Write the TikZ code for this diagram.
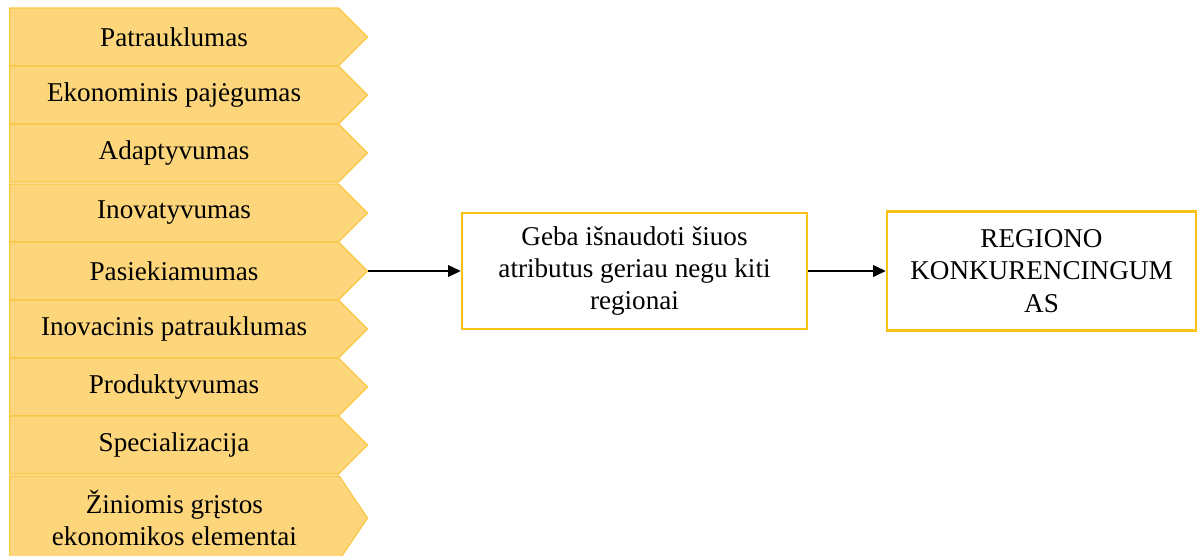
\documentclass[tikz,border=0pt]{standalone}
\usepackage{fontspec}
\setmainfont{Liberation Serif}
\usetikzlibrary{shapes.symbols,arrows.meta}
\definecolor{chevfill}{RGB}{253,214,124}
\definecolor{chevline}{RGB}{249,198,64}
\definecolor{boxline}{RGB}{250,192,20}
\begin{document}
\begin{tikzpicture}[x=0.025cm, y=-0.025cm, >={Triangle[length=9pt,width=8pt]}, line width=1.4pt,
  attr node/.style={signal,signal to=east,signal pointer angle=90,draw=chevline,fill=chevfill,line width=0.8pt,
    minimum width=358*0.025cm,minimum height=58*0.025cm,inner sep=0pt,anchor=west,align=center,
    font=\fontsize{19.3}{23}\selectfont},
  main node/.style={rectangle,draw=boxline,line width=1.6pt,align=center,inner sep=0pt,
    font=\fontsize{19.3}{23}\selectfont}]%fill=white,
\clip (0,0) rectangle (1197,555);
\begin{scope}
\node[attr node] (a1) at (9,37) {Patrauklumas};
\node[attr node] (a2) at (9,95) {Ekonominis pajėgumas};
\node[attr node] (a3) at (9,153) {Adaptyvumas};
\node[attr node] (a4) at (9,213) {Inovatyvumas};
\node[attr node] (a5) at (9,271) {Pasiekiamumas};
\node[attr node] (a6) at (9,329) {Inovacinis patrauklumas};
\node[attr node] (a7) at (9,387) {Produktyvumas};
\node[attr node] (a8) at (9,445) {Specializacija};
\node[attr node,minimum height=84*0.025cm,signal pointer angle=112] (a9) at (9,518) {Žiniomis grįstos\\ekonomikos elementai};
\end{scope}
\begin{scope}
\node[main node,minimum width=345*0.025cm,minimum height=116*0.025cm] (geba) at (634.5,271) {Geba išnaudoti šiuos\\atributus geriau negu kiti\\regionai};
\node[main node,minimum width=309*0.025cm,minimum height=119*0.025cm] (konk) at (1041.5,271) {REGIONO\\KONKURENCINGUM\\AS};
\end{scope}
\begin{scope}[every path/.style={draw=black,line width=1.7pt}]
\draw[->] (a5.east) -- (geba.west);
\draw[->] (geba.east) -- (konk.west);
\end{scope}
\end{tikzpicture}
\end{document}
